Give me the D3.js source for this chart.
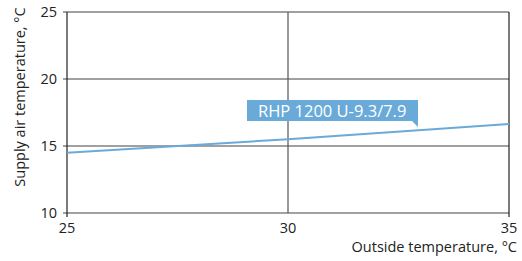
<!DOCTYPE html>
<html><head><meta charset="utf-8">
<script src="https://cdn.jsdelivr.net/npm/d3@7"></script>
<style>body{margin:0;background:#fff;} text{font-family:"Open Sans",sans-serif;}</style>
</head><body><svg id="c" width="522" height="261"></svg>
<script>
const xTicks = [25, 30, 35];
const yTicks = [10, 15, 20, 25];
const outsideTemp = [25, 30, 35];
const supplyTemp = [14.5, 15.5, 16.65];
const seriesName = "RHP 1200 U-9.3/7.9";
const xTitle = "Outside temperature, °C";
const yTitle = "Supply air temperature, °C";

const svg = d3.select("#c");
const x = d3.scaleLinear().domain([25, 35]).range([67, 509]);
const y = d3.scaleLinear().domain([10, 25]).range([213, 12]);

// horizontal gridlines
svg.append("g").selectAll("line").data(yTicks).join("line")
  .attr("x1", x(25) - 4).attr("x2", x(35))
  .attr("y1", d => y(d)).attr("y2", d => y(d))
  .attr("stroke", "#808080").attr("stroke-width", 1.6);
// vertical line at 30
svg.append("line").attr("x1", x(30)).attr("x2", x(30)).attr("y1", y(25)).attr("y2", y(10))
  .attr("stroke", "#555").attr("stroke-width", 1.2);
// left and right axis lines
[25, 35].forEach(v => svg.append("line").attr("x1", x(v)).attr("x2", x(v))
  .attr("y1", y(25)).attr("y2", y(10) + 4).attr("stroke", "#222").attr("stroke-width", 1.2));

// tick labels
svg.append("g").selectAll("text").data(yTicks).join("text")
  .attr("x", 57).attr("y", d => y(d)).attr("dy", "0.35em").attr("text-anchor", "end")
  .attr("font-size", 14.5).attr("fill", "#222").text(d => d);
svg.append("g").selectAll("text").data(xTicks).join("text")
  .attr("x", d => x(d)).attr("y", 233).attr("text-anchor", "middle")
  .attr("font-size", 14.5).attr("fill", "#222").text(d => d);

svg.append("text").attr("x", 517).attr("y", 252).attr("text-anchor", "end")
  .attr("font-size", 14.5).attr("fill", "#222").text(xTitle);
svg.append("text").attr("transform", "translate(25,97) rotate(-90)").attr("text-anchor", "middle")
  .attr("font-size", 14.5).attr("fill", "#222").text(yTitle);

// series line
const line = d3.line().x((d, i) => x(outsideTemp[i])).y(d => y(d));
svg.append("path").datum(supplyTemp).attr("d", line)
  .attr("fill", "none").attr("stroke", "#6aaad8").attr("stroke-width", 2);

// label callout
const bx0 = 247, bx1 = 418, by0 = 100, by1 = 121;
svg.append("path")
  .attr("d", `M${bx0},${by0}H${bx1}V${by1 + 6}L${bx1 - 6},${by1}H${bx0}Z`)
  .attr("fill", "#6aaad8");
svg.append("text").attr("x", 258).attr("y", 116.5).attr("font-size", 16.5).attr("fill", "#fff").text(seriesName);
</script></body></html>
